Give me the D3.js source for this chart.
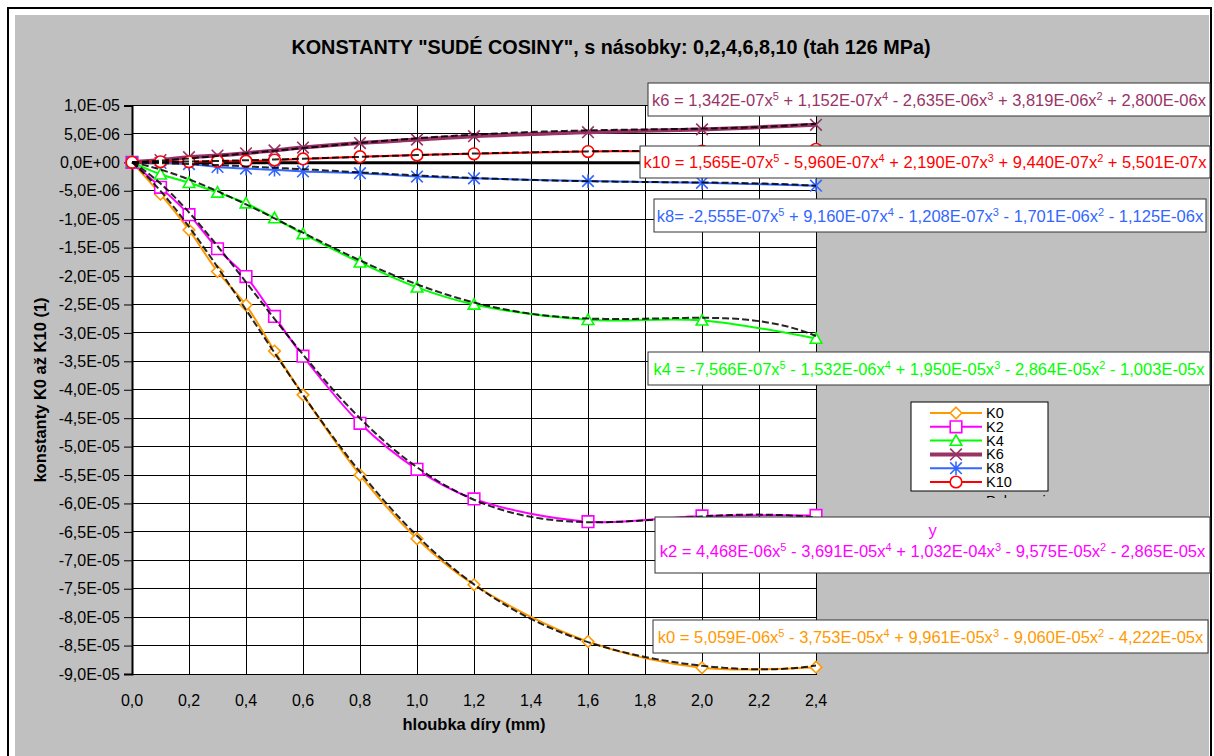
<!DOCTYPE html>
<html>
<head>
<meta charset="utf-8">
<script src="https://cdn.jsdelivr.net/npm/d3@7"></script>
<style>
    html, body { margin: 0; padding: 0; background: #fff; }
    svg { display: block; font-family: "Liberation Sans", Arial, sans-serif; }
</style>
</head>
<body>
<svg id="chart" width="1214" height="756"></svg>
<script>
// hloubka díry (mm)
const depths = [0, 0.1, 0.2, 0.3, 0.4, 0.5, 0.6, 0.8, 1.0, 1.2, 1.6, 2.0, 2.4];

// konstanty
const k0 = [0, -5.6e-6, -11.9e-6, -19.2e-6, -25.1e-6, -33.2e-6, -40.9e-6, -55.0e-6, -66.2e-6, -74.3e-6, -84.3e-6, -88.9e-6, -88.8e-6];
const k2 = [0, -4.4e-6, -9.2e-6, -15.2e-6, -20.1e-6, -27.1e-6, -34.1e-6, -45.9e-6, -54.0e-6, -59.2e-6, -63.2e-6, -62.2e-6, -62.1e-6];
const k4 = [0, -2.1e-6, -3.6e-6, -5.3e-6, -7.2e-6, -9.8e-6, -12.6e-6, -17.6e-6, -22.0e-6, -25.0e-6, -27.7e-6, -27.8e-6, -31.0e-6];
const k6 = [0, 0.4e-6, 0.9e-6, 1.2e-6, 1.6e-6, 2.1e-6, 2.6e-6, 3.4e-6, 4.0e-6, 4.6e-6, 5.3e-6, 5.8e-6, 6.6e-6];
const k8 = [0, -0.1e-6, -0.3e-6, -0.8e-6, -1.1e-6, -1.3e-6, -1.6e-6, -1.9e-6, -2.5e-6, -2.8e-6, -3.3e-6, -3.6e-6, -4.1e-6];
const k10 = [0, 0.1e-6, 0.1e-6, 0.2e-6, 0.2e-6, 0.4e-6, 0.6e-6, 1.0e-6, 1.3e-6, 1.5e-6, 1.9e-6, 2.0e-6, 2.3e-6];

// polynomial trendline coefficients (x^5 .. x^1), as printed in the chart
const fitK0 = [5.059e-6, -3.753e-5, 9.961e-5, -9.060e-5, -4.222e-5];
const fitK2 = [4.468e-6, -3.691e-5, 1.032e-4, -9.575e-5, -2.865e-5];
const fitK4 = [-7.566e-7, -1.532e-6, 1.950e-5, -2.864e-5, -1.003e-5];
const fitK6 = [1.342e-7, 1.152e-7, -2.635e-6, 3.819e-6, 2.800e-6];
const fitK8 = [-2.555e-7, 9.160e-7, -1.208e-7, -1.701e-6, -1.125e-6];
const fitK10 = [1.565e-7, -5.960e-7, 2.190e-7, 9.440e-7, 5.501e-7];

// equation labels (^n = superscript)
const eqK0 = "k0 = 5,059E-06x^5 - 3,753E-05x^4 + 9,961E-05x^3 - 9,060E-05x^2 - 4,222E-05x";
const eqK2 = "k2 = 4,468E-06x^5 - 3,691E-05x^4 + 1,032E-04x^3 - 9,575E-05x^2 - 2,865E-05x";
const eqK4 = "k4 = -7,566E-07x^5 - 1,532E-06x^4 + 1,950E-05x^3 - 2,864E-05x^2 - 1,003E-05x";
const eqK6 = "k6 = 1,342E-07x^5 + 1,152E-07x^4 - 2,635E-06x^3 + 3,819E-06x^2 + 2,800E-06x";
const eqK8 = "k8= -2,555E-07x^5 + 9,160E-07x^4 - 1,208E-07x^3 - 1,701E-06x^2 - 1,125E-06x";
const eqK10 = "k10 = 1,565E-07x^5 - 5,960E-07x^4 + 2,190E-07x^3 + 9,440E-07x^2 + 5,501E-07x";

const xTicks = [0, 0.2, 0.4, 0.6, 0.8, 1.0, 1.2, 1.4, 1.6, 1.8, 2.0, 2.2, 2.4];
const yTicks = d3.range(-18, 3).map(i => i * 5e-6);

const title = 'KONSTANTY "SUDÉ COSINY", s násobky: 0,2,4,6,8,10 (tah 126 MPa)';
const xTitle = "hloubka díry (mm)";
const yTitle = "konstanty K0 až K10 (1)";

const series = [
    {name: "K0", values: k0, fit: fitK0, eq: eqK0, color: "#FF9900", width: 2, marker: "diamond"},
    {name: "K2", values: k2, fit: fitK2, eq: eqK2, color: "#FF00FF", width: 2, marker: "square"},
    {name: "K4", values: k4, fit: fitK4, eq: eqK4, color: "#00FF00", width: 2, marker: "triangle"},
    {name: "K6", values: k6, fit: fitK6, eq: eqK6, color: "#993366", width: 4, marker: "x"},
    {name: "K8", values: k8, fit: fitK8, eq: eqK8, color: "#3366FF", width: 2, marker: "star"},
    {name: "K10", values: k10, fit: fitK10, eq: eqK10, color: "#FF0000", width: 2, marker: "circle"},
];

// where the equation boxes sit
const eqBoxes = {
    K6: {x: 648, y: 83, w: 562, h: 33},
    K10: {x: 640, y: 146, w: 570, h: 32},
    K8: {x: 654, y: 199, w: 552, h: 33},
    K4: {x: 648, y: 352, w: 562, h: 33},
    K2: {x: 655, y: 517, w: 555, h: 56, extra: "y"},
    K0: {x: 653, y: 620, w: 555, h: 33},
};

const svg = d3.select("#chart");
const font = '"Liberation Sans", Arial, sans-serif';

// chart frame
svg.append("rect").attr("x", 0).attr("y", 0).attr("width", 1214).attr("height", 756).attr("fill", "#fff");
svg.append("rect").attr("x", 15).attr("y", 15).attr("width", 1194).attr("height", 745).attr("fill", "#C0C0C0");
svg.append("rect").attr("x", 8).attr("y", 8).attr("width", 1203).attr("height", 760)
    .attr("fill", "none").attr("stroke", "#000").attr("stroke-width", 2);

const x = d3.scaleLinear().domain([0, 2.4]).range([132, 816]);
const y = d3.scaleLinear().domain([-9e-5, 1e-5]).range([674, 105.5]);

const sci = (v) => {
    if (Math.abs(v) < 1e-12) return "0,0E+00";
    const e = Math.floor(Math.log10(Math.abs(v)) + 1e-9);
    const m = v / Math.pow(10, e);
    return m.toFixed(1).replace(".", ",") + "E" + (e < 0 ? "-" : "+") + String(Math.abs(e)).padStart(2, "0");
};

svg.append("text").attr("x", 611).attr("y", 54).attr("text-anchor", "middle")
    .attr("font-size", 19.8).attr("font-weight", "bold").attr("fill", "#000").text(title);

// plot area
const [x0, x1] = x.range();
const [yb, yt] = y.range();
svg.append("rect").attr("x", x0).attr("y", yt).attr("width", x1 - x0).attr("height", yb - yt).attr("fill", "#fff");

const grid = svg.append("g").attr("stroke", "#000").attr("stroke-width", 1).attr("shape-rendering", "crispEdges");
grid.selectAll(".gx").data(xTicks).join("line")
    .attr("x1", d => x(d)).attr("x2", d => x(d)).attr("y1", yt).attr("y2", yb);
grid.selectAll(".gy").data(yTicks).join("line")
    .attr("x1", x0).attr("x2", x1).attr("y1", d => y(d)).attr("y2", d => y(d));
svg.append("rect").attr("x", x0).attr("y", yt).attr("width", x1 - x0).attr("height", yb - yt)
    .attr("fill", "none").attr("stroke", "#000").attr("stroke-width", 1).attr("shape-rendering", "crispEdges");

// y axis
const yAxis = svg.append("g").attr("transform", `translate(${x0},0)`)
    .call(d3.axisLeft(y).tickValues(yTicks).tickFormat(sci).tickSize(8).tickPadding(4));
yAxis.select(".domain").attr("stroke", "#000").attr("stroke-width", 2);
yAxis.selectAll("text").attr("font-family", font).attr("font-size", 16).attr("fill", "#000");

// x axis crosses at zero, labels sit at the bottom
const xAxis = svg.append("g").attr("transform", `translate(0,${y(0)})`)
    .call(d3.axisBottom(x).tickValues(xTicks).tickFormat(() => "").tickSize(6).tickSizeOuter(0));
xAxis.select(".domain").attr("stroke", "#000").attr("stroke-width", 3);
svg.append("g").selectAll("text").data(xTicks).join("text")
    .attr("x", d => x(d)).attr("y", 706).attr("text-anchor", "middle")
    .attr("font-size", 16).attr("fill", "#000")
    .text(d => d.toFixed(1).replace(".", ","));

svg.append("text").attr("x", 474).attr("y", 730).attr("text-anchor", "middle")
    .attr("font-size", 16.5).attr("font-weight", "bold").text(xTitle);
svg.append("text").attr("transform", "translate(46,390) rotate(-90)").attr("text-anchor", "middle")
    .attr("font-size", 16.5).attr("font-weight", "bold").text(yTitle);

// markers
const markerPath = (type) => {
    const s = 5.8;
    switch (type) {
        case "diamond": return `M0,${-s}L${s},0L0,${s}L${-s},0Z`;
        case "square": return `M${-s},${-s}H${s}V${s}H${-s}Z`;
        case "triangle": return `M0,${-s}L${s},${s * 0.8}L${-s},${s * 0.8}Z`;
        case "x": return `M${-s},${-s}L${s},${s}M${s},${-s}L${-s},${s}`;
        case "star": return `M${-s},${-s}L${s},${s}M${s},${-s}L${-s},${s}M0,${-s - 1}V${s + 1}`;
        case "circle": return `M${s},0A${s},${s} 0 1,1 ${-s},0A${s},${s} 0 1,1 ${s},0Z`;
    }
};
const filled = (type) => ["diamond", "square", "triangle", "circle"].includes(type);

const line = d3.line().x(d => x(d[0])).y(d => y(d[1])).curve(d3.curveCatmullRom);

series.forEach(s => {
    const pts = depths.map((d, i) => [d, s.values[i]]);
    const g = svg.append("g");
    g.append("path").attr("d", line(pts)).attr("fill", "none")
        .attr("stroke", s.color).attr("stroke-width", s.width);
    g.selectAll("path.m").data(pts).join("path").attr("class", "m")
        .attr("transform", d => `translate(${x(d[0])},${y(d[1])})`)
        .attr("d", markerPath(s.marker))
        .attr("fill", filled(s.marker) ? "#fff" : "none")
        .attr("stroke", s.color).attr("stroke-width", 1.6);
});

// trendlines from the printed polynomials
const poly = (c, t) => c[0] * t ** 5 + c[1] * t ** 4 + c[2] * t ** 3 + c[3] * t ** 2 + c[4] * t;
const fitLine = d3.line().x(d => x(d[0])).y(d => y(d[1]));
series.forEach(s => {
    const pts = d3.range(0, 2.4001, 0.02).map(t => [t, poly(s.fit, t)]);
    svg.append("path").attr("d", fitLine(pts)).attr("fill", "none")
        .attr("stroke", "#000").attr("stroke-width", 2).attr("stroke-dasharray", "7,3").attr("opacity", 0.85);
});

// legend
const lg = svg.append("g");
lg.append("rect").attr("x", 911).attr("y", 402).attr("width", 137).attr("height", 89)
    .attr("fill", "#fff").attr("stroke", "#000").attr("stroke-width", 1);
series.forEach((s, i) => {
    const ly = 413 + i * 13.8;
    lg.append("line").attr("x1", 930).attr("x2", 982).attr("y1", ly).attr("y2", ly)
        .attr("stroke", s.color).attr("stroke-width", s.width);
    lg.append("path").attr("transform", `translate(956,${ly})`).attr("d", markerPath(s.marker))
        .attr("fill", filled(s.marker) ? "#fff" : "none").attr("stroke", s.color).attr("stroke-width", 1.6);
    lg.append("text").attr("x", 986).attr("y", ly + 5).attr("font-size", 14.5).text(s.name);
});
// seventh entry spills out under the legend box
svg.append("clipPath").attr("id", "spill").append("rect").attr("x", 911).attr("y", 491).attr("width", 137).attr("height", 7);
lg.append("text").attr("clip-path", "url(#spill)").attr("x", 986).attr("y", 506)
    .attr("font-size", 14.5).text("Polynomický (K0)");

// equation boxes, superscripts done with dy up and back down
const eqText = (sel, str) => {
    let back = 0;
    str.split(/\^(\d)/).forEach((part, i) => {
        if (part === "") return;
        const sup = i % 2 === 1;
        const ts = sel.append("tspan").text(part);
        if (sup) {
            ts.attr("dy", -6).attr("font-size", 11);
            back = 6;
        } else if (back) {
            ts.attr("dy", back);
            back = 0;
        }
    });
};
series.forEach(s => {
    const b = eqBoxes[s.name];
    svg.append("rect").attr("x", b.x).attr("y", b.y).attr("width", b.w).attr("height", b.h)
        .attr("fill", "#fff").attr("stroke", "#333").attr("stroke-width", 1);
    if (b.extra) {
        svg.append("text").attr("x", b.x + b.w / 2).attr("y", b.y + 19).attr("text-anchor", "middle")
            .attr("font-size", 16.5).attr("fill", s.color).text(b.extra);
    }
    const t = svg.append("text").attr("x", b.x + b.w / 2).attr("y", b.extra ? b.y + 40 : b.y + b.h - 10)
        .attr("text-anchor", "middle").attr("font-size", 16.5).attr("fill", s.color);
    eqText(t, s.eq);
});
</script>
</body>
</html>
